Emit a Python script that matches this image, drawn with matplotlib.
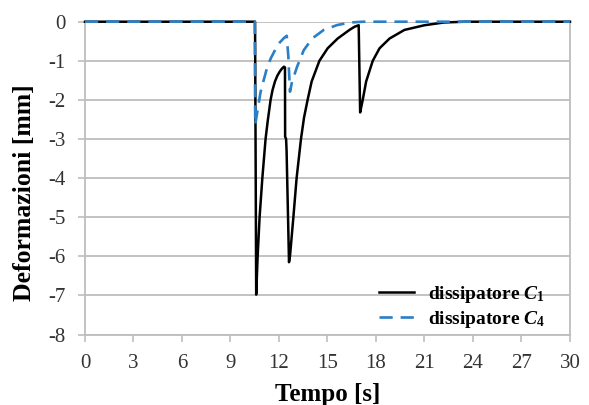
import matplotlib
matplotlib.use("Agg")
import matplotlib.pyplot as plt

# values
t_c1 = [0, 10.52, 10.59, 10.68, 10.80, 10.97, 11.17, 11.30, 11.48, 11.60, 11.75,
        11.90, 12.04, 12.18, 12.31, 12.37, 12.38, 12.44, 12.47, 12.62, 12.68,
        12.89, 13.09, 13.36, 13.55, 13.77, 14.02, 14.50, 15.01, 15.63, 16.36,
        16.67, 16.93, 17.02, 17.08, 17.18, 17.39, 17.80, 18.22, 18.84, 19.76,
        21.0, 22.2, 23.5, 30]
y_c1 = [0, 0, -6.98, -6.0, -5.0, -4.0, -3.0, -2.55, -2.0, -1.75, -1.53,
        -1.38, -1.28, -1.2, -1.15, -1.17, -2.94, -3.0, -3.3, -6.15, -6.0,
        -5.0, -4.0, -3.0, -2.45, -2.0, -1.53, -1.0, -0.68, -0.43, -0.21,
        -0.13, -0.09, -2.32, -2.2, -2.0, -1.53, -1.0, -0.68, -0.43, -0.21,
        -0.09, -0.02, 0, 0]

t_c4 = [0, 10.50, 10.53, 10.66, 10.86, 11.05, 11.28, 11.50, 11.79, 12.05, 12.30,
        12.48, 12.58, 12.68, 12.80, 13.12, 13.53, 14.05, 14.77, 15.6, 16.42,
        17.2, 30]
y_c4 = [0, 0, -2.64, -2.3, -1.8, -1.5, -1.15, -0.93, -0.7, -0.53, -0.42,
        -0.36, -0.9, -1.79, -1.55, -1.15, -0.73, -0.43, -0.21, -0.085, -0.02,
        0, 0]

x_ticks = list(range(0, 31, 3))
y_ticks = list(range(-8, 1))

plt.rcParams['font.family'] = ['Liberation Serif', 'DejaVu Serif']
plt.rcParams['axes.unicode_minus'] = False
plt.rcParams['mathtext.fontset'] = 'custom'
plt.rcParams['mathtext.rm'] = 'Liberation Serif:bold'
plt.rcParams['mathtext.it'] = 'Liberation Serif:italic:bold'

grey = '#bdbdbd'
fig = plt.figure(figsize=(5.89, 4.05), dpi=100)
ax = fig.add_axes([0.1443, 0.174, 0.8234, 0.7724])

ax.plot(t_c1, y_c1, color='black', lw=1.8, clip_on=False,
        label=r'dissipatore $C_1$', zorder=3)
ax.plot(t_c4, y_c4, color='#2a7fc6', lw=1.9, ls=(0, (5, 3)), clip_on=False,
        label=r'dissipatore $C_4$', zorder=4)

ax.set_xlim(0, 30)
ax.set_ylim(-8, 0)
ax.set_xticks(x_ticks)
ax.set_yticks(y_ticks)
ax.yaxis.grid(True, color=grey, lw=1.3)
ax.set_axisbelow(True)
for s in ['left', 'bottom', 'right']:
    ax.spines[s].set_color(grey)
    ax.spines[s].set_linewidth(1.3)
ax.spines['top'].set_visible(False)
ax.tick_params(axis='both', color=grey, width=1.2, length=5, labelsize=15,
               labelcolor='#333333')
ax.tick_params(axis='x', pad=9)
ax.tick_params(axis='y', pad=9)

ax.set_xlabel('Tempo [s]', fontsize=18, fontweight='bold', labelpad=7)
ax.set_ylabel('Deformazioni [mm]', fontsize=18.5, fontweight='bold')
ax.yaxis.set_label_coords(-0.102, 0.452)

leg = ax.legend(loc='lower left', bbox_to_anchor=(0.57, -0.04), frameon=False,
                prop={'size': 14, 'weight': 'bold'}, handlelength=1.8,
                handletextpad=0.7, labelspacing=0.2)

fig.savefig('out.png', dpi=100)
